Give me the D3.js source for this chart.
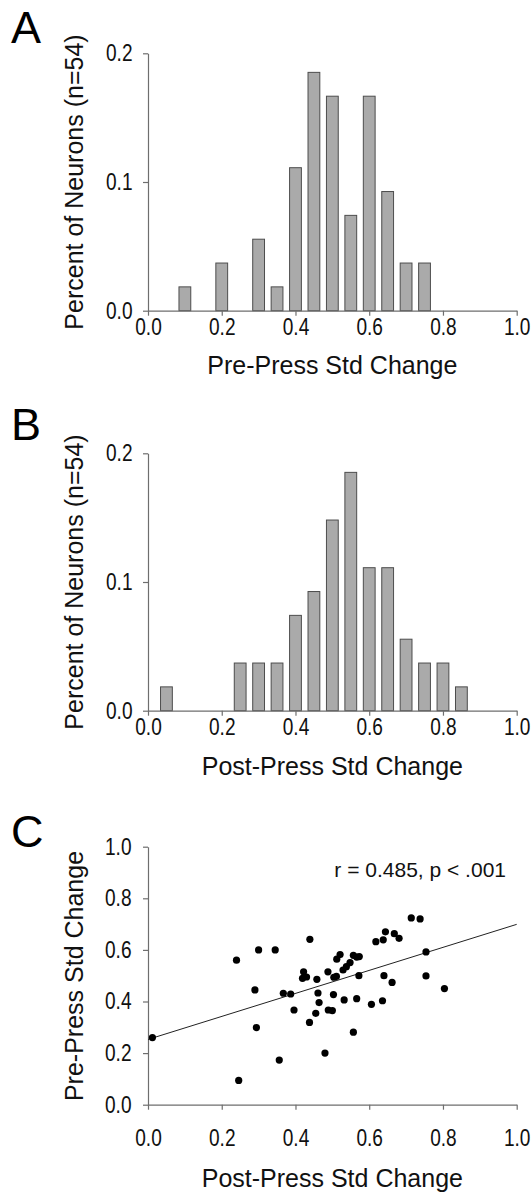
<!DOCTYPE html>
<html>
<head>
<meta charset="utf-8">
<script src="https://cdn.jsdelivr.net/npm/d3@7"></script>
<style>
  body { margin: 0; background: #fff; }
  svg { display: block; font-family: "Liberation Sans", Arial, sans-serif; }
  .axis path, .axis line { stroke: #6e6e6e; stroke-width: 1.2; }
  .axis text { fill: #111; font-size: 23px; }
</style>
</head>
<body>
<div id="figure"></div>
<script>
var svgWidth = 532;
var svgHeight = 1194;

// number of neurons
var nNeurons = 54;

// Panel A: pre-press histogram (bin centers, counts)
var preBins = [0.10, 0.20, 0.30, 0.35, 0.40, 0.45, 0.50, 0.55, 0.60, 0.65, 0.70, 0.75];
var preCounts = [1, 2, 3, 1, 6, 10, 9, 4, 9, 5, 2, 2];

// Panel B: post-press histogram
var postBins = [0.05, 0.25, 0.30, 0.35, 0.40, 0.45, 0.50, 0.55, 0.60, 0.65, 0.70, 0.75, 0.80, 0.85];
var postCounts = [1, 2, 2, 2, 4, 5, 8, 10, 6, 6, 3, 2, 2, 1];

// Panel C: scatter, post-press (x) vs pre-press (y)
var scatterPost = [0.012, 0.240, 0.246, 0.290, 0.294, 0.300, 0.345, 0.356, 0.367, 0.387,
  0.396, 0.439, 0.422, 0.419, 0.430, 0.438, 0.458, 0.461, 0.464, 0.455,
  0.480, 0.488, 0.489, 0.500, 0.503, 0.504, 0.511, 0.512, 0.521, 0.529,
  0.538, 0.548, 0.557, 0.566, 0.573, 0.572, 0.532, 0.566, 0.557, 0.606,
  0.636, 0.640, 0.662, 0.618, 0.638, 0.644, 0.668, 0.681, 0.714, 0.738,
  0.754, 0.754, 0.804];
var scatterPre = [0.260, 0.560, 0.094, 0.445, 0.299, 0.600, 0.600, 0.173, 0.432, 0.429,
  0.367, 0.641, 0.515, 0.490, 0.495, 0.319, 0.486, 0.433, 0.396, 0.354,
  0.200, 0.515, 0.367, 0.365, 0.427, 0.494, 0.497, 0.564, 0.582, 0.522,
  0.535, 0.551, 0.579, 0.572, 0.574, 0.500, 0.406, 0.411, 0.281, 0.389,
  0.403, 0.500, 0.474, 0.632, 0.639, 0.670, 0.663, 0.645, 0.724, 0.720,
  0.592, 0.499, 0.450];

// regression line
var fitIntercept = 0.253;
var fitSlope = 0.446;
var statText = "r = 0.485, p < .001";

var xTicks = [0, 0.2, 0.4, 0.6, 0.8, 1.0];

var svg = d3.select("#figure")
  .append("svg")
  .attr("width", svgWidth)
  .attr("height", svgHeight);

var xScale = d3.scaleLinear().domain([0, 1]).range([148, 516.7]);

// the original tick labels use a narrow face, so squeeze them horizontally
var squeeze = 0.83;

function drawXAxis(y0, padding) {
  var g = svg.append("g")
    .attr("class", "axis")
    .attr("transform", `translate(0, ${y0})`)
    .call(d3.axisBottom(xScale)
      .tickValues(xTicks)
      .tickFormat(d3.format(".1f"))
      .tickSize(5)
      .tickSizeOuter(0)
      .tickPadding(padding));
  g.selectAll("text").attr("transform", `scale(${squeeze}, 1)`);
  return g;
}

function drawYAxis(yScale, ticks, rightGap) {
  var g = svg.append("g")
    .attr("class", "axis")
    .attr("transform", `translate(148, 0)`)
    .call(d3.axisLeft(yScale)
      .tickValues(ticks)
      .tickFormat(d3.format(".1f"))
      .tickSize(5)
      .tickSizeOuter(0));
  g.selectAll("text")
    .attr("x", -rightGap / squeeze)
    .attr("transform", `scale(${squeeze}, 1)`);
  return g;
}

function panelLetter(letter, y) {
  svg.append("text")
    .attr("x", 11)
    .attr("y", y)
    .attr("font-size", 45)
    .attr("fill", "#000")
    .text(letter);
}

function xTitle(label, y) {
  svg.append("text")
    .attr("x", (xScale(0) + xScale(1)) / 2)
    .attr("y", y)
    .attr("text-anchor", "middle")
    .attr("font-size", 25)
    .attr("fill", "#111")
    .text(label);
}

function yTitle(label, yCenter) {
  svg.append("text")
    .attr("transform", `translate(83, ${yCenter}) rotate(-90)`)
    .attr("text-anchor", "middle")
    .attr("font-size", 25)
    .attr("fill", "#111")
    .text(label);
}

function histogram(bins, counts, yScale) {
  var barHalf = 0.016;
  svg.append("g")
    .selectAll("rect")
    .data(bins)
    .enter()
    .append("rect")
    .attr("x", d => xScale(d - barHalf))
    .attr("width", d => xScale(d + barHalf) - xScale(d - barHalf))
    .attr("y", (d, i) => yScale(counts[i] / nNeurons))
    .attr("height", (d, i) => yScale(0) - yScale(counts[i] / nNeurons))
    .attr("fill", "#aaaaaa")
    .attr("stroke", "#4d4d4d")
    .attr("stroke-width", 1);
}

// ---- Panel A ----
var yA = d3.scaleLinear().domain([0, 0.2]).range([310.7, 53.3]);
histogram(preBins, preCounts, yA);
drawYAxis(yA, [0, 0.1, 0.2], 15.5);
drawXAxis(310.7, 3);
panelLetter("A", 43);
xTitle("Pre-Press Std Change", 374);
yTitle("Percent of Neurons (n=54)", 182);

// ---- Panel B ----
var yB = d3.scaleLinear().domain([0, 0.2]).range([710.7, 453.3]);
histogram(postBins, postCounts, yB);
drawYAxis(yB, [0, 0.1, 0.2], 15.5);
drawXAxis(710.7, 3);
panelLetter("B", 440);
xTitle("Post-Press Std Change", 775);
yTitle("Percent of Neurons (n=54)", 582);

// ---- Panel C ----
var yC = d3.scaleLinear().domain([0, 1]).range([1104.7, 846.7]);
drawYAxis(yC, [0, 0.2, 0.4, 0.6, 0.8, 1.0], 16.5);
drawXAxis(1104.7, 20);

svg.append("line")
  .attr("x1", xScale(0))
  .attr("y1", yC(fitIntercept))
  .attr("x2", xScale(1))
  .attr("y2", yC(fitIntercept + fitSlope))
  .attr("stroke", "#222")
  .attr("stroke-width", 1);

svg.append("g")
  .selectAll("circle")
  .data(scatterPost)
  .enter()
  .append("circle")
  .attr("cx", d => xScale(d))
  .attr("cy", (d, i) => yC(scatterPre[i]))
  .attr("r", 3.6)
  .attr("fill", "#000");

svg.append("text")
  .attr("x", 506)
  .attr("y", 877)
  .attr("text-anchor", "end")
  .attr("font-size", 21)
  .attr("fill", "#111")
  .text(statText);

panelLetter("C", 847);
xTitle("Post-Press Std Change", 1187);
yTitle("Pre-Press Std Change", 976);
</script>
</body>
</html>
